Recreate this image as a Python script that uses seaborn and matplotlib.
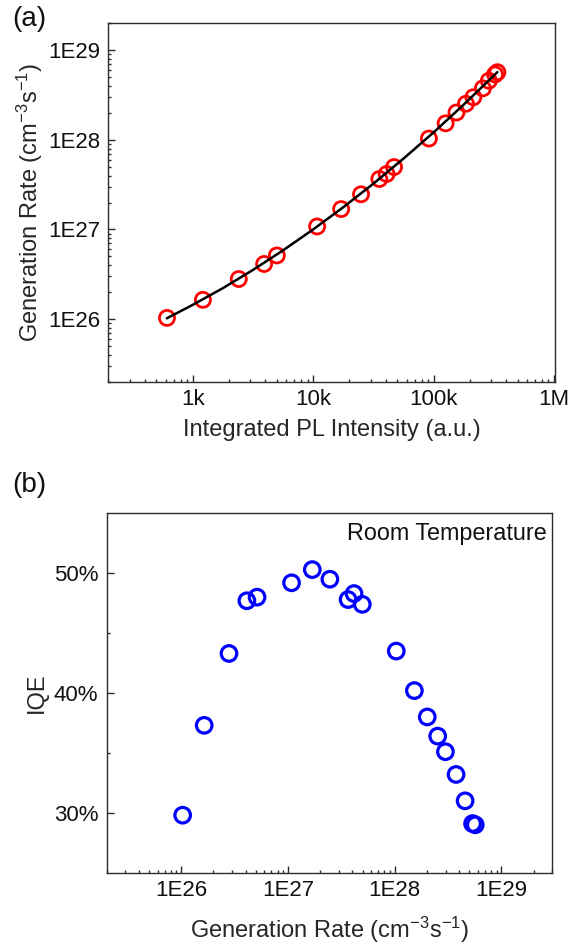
import numpy as np
import pandas as pd
import matplotlib
matplotlib.use("Agg")
import matplotlib.pyplot as plt
import matplotlib.ticker as mticker
import seaborn as sns

# ---------------- data ----------------
pl_intensity = [612, 1217, 2415, 3920, 5000, 10800, 17100, 25000, 35500, 40800,
                47000, 91600, 126000, 155000, 186000, 214000, 257000, 288000,
                324000, 339000]
gen_rate = [1.03e26, 1.64e26, 2.80e26, 4.12e26, 5.13e26, 1.08e27, 1.69e27,
            2.47e27, 3.66e27, 4.16e27, 4.97e27, 1.035e28, 1.53e28, 2.02e28,
            2.53e28, 2.99e28, 3.76e28, 4.57e28, 5.37e28, 5.69e28]
iqe_percent = [29.8, 37.3, 43.3, 47.7, 48.0, 49.2, 50.3, 49.5, 47.8, 48.3,
               47.4, 43.5, 40.2, 38.0, 36.4, 35.1, 33.2, 31.0, 29.1, 29.0]

# fitted curve
fit_pl = [610, 1000, 1778, 3162, 5623, 10000, 17783, 31623, 56234, 100000,
          177828, 339000]
fit_gen = [1.02e26, 1.44e26, 2.21e26, 3.53e26, 5.84e26, 1.00e27, 1.77e27,
           3.24e27, 6.17e27, 1.21e28, 2.47e28, 5.70e28]

xa_ticks = [1e3, 1e4, 1e5, 1e6]
xa_labels = ["1k", "10k", "100k", "1M"]
ya_ticks = [1e26, 1e27, 1e28, 1e29]
ya_labels = ["1E26", "1E27", "1E28", "1E29"]
xb_ticks = [1e26, 1e27, 1e28, 1e29]
xb_labels = ["1E26", "1E27", "1E28", "1E29"]
yb_ticks = [30, 40, 50]
yb_labels = ["30%", "40%", "50%"]

df = pd.DataFrame({"pl": pl_intensity, "gen": gen_rate, "iqe": iqe_percent})
fit = pd.DataFrame({"pl": fit_pl, "gen": fit_gen})

# ---------------- style ----------------
sns.set_style("ticks")
plt.rcParams["font.family"] = ["Liberation Sans", "DejaVu Sans"]
plt.rcParams["mathtext.fontset"] = "custom"
plt.rcParams["mathtext.rm"] = "Liberation Sans"
plt.rcParams["mathtext.it"] = "Liberation Sans:italic"
plt.rcParams["mathtext.bf"] = "Liberation Sans:bold"

TICK_FS = 16
LABEL_FS = 17
SPINE_C = "#2b2b2b"

fig = plt.figure(figsize=(5.73, 9.46), dpi=100)
ax_a = fig.add_axes([0.18935, 0.59651, 0.77923, 0.37886])
ax_b = fig.add_axes([0.18621, 0.07748, 0.77766, 0.37992])


def style_axes(ax):
    for s in ax.spines.values():
        s.set_visible(True)
        s.set_color(SPINE_C)
        s.set_linewidth(1.0)
    ax.tick_params(which="both", direction="in", top=False, right=False,
                   color=SPINE_C, width=1.0, labelsize=TICK_FS,
                   labelcolor="#111111")
    ax.tick_params(which="major", length=5)
    ax.tick_params(which="minor", length=2.5)
    ax.tick_params(axis="y", which="major", pad=6)
    ax.tick_params(axis="x", which="major", pad=5)


# ---------------- panel (a) ----------------
sns.scatterplot(data=df, x="pl", y="gen", ax=ax_a, marker="o", s=117,
                facecolor="none", edgecolor="#ff0000", linewidth=2.0,
                zorder=2, legend=False)
sns.lineplot(data=fit, x="pl", y="gen", ax=ax_a, color="black", lw=1.8,
             estimator=None, sort=False, zorder=3, legend=False)
ax_a.set_xscale("log")
ax_a.set_yscale("log")
ax_a.set_xlim(200, 1.02e6)
ax_a.set_ylim(2e25, 2e29)
ax_a.xaxis.set_major_locator(mticker.FixedLocator(xa_ticks))
ax_a.xaxis.set_major_formatter(mticker.FixedFormatter(xa_labels))
ax_a.yaxis.set_major_locator(mticker.FixedLocator(ya_ticks))
ax_a.yaxis.set_major_formatter(mticker.FixedFormatter(ya_labels))
ax_a.xaxis.set_minor_locator(mticker.LogLocator(base=10, subs=np.arange(2, 10), numticks=20))
ax_a.yaxis.set_minor_locator(mticker.LogLocator(base=10, subs=np.arange(2, 10), numticks=20))
ax_a.xaxis.set_minor_formatter(mticker.NullFormatter())
ax_a.yaxis.set_minor_formatter(mticker.NullFormatter())
ax_a.set_xlabel("Integrated PL Intensity (a.u.)", fontsize=LABEL_FS, labelpad=7)
ax_a.set_ylabel(r"Generation Rate (cm$^{-3}$s$^{-1}$)", fontsize=LABEL_FS, labelpad=2)
style_axes(ax_a)

# ---------------- panel (b) ----------------
sns.scatterplot(data=df, x="gen", y="iqe", ax=ax_b, marker="o", s=125,
                facecolor="none", edgecolor="#0000ff", linewidth=2.3,
                zorder=2, legend=False)
ax_b.set_xscale("log")
ax_b.set_xlim(2e25, 3e29)
ax_b.set_ylim(25, 55)
ax_b.xaxis.set_major_locator(mticker.FixedLocator(xb_ticks))
ax_b.xaxis.set_major_formatter(mticker.FixedFormatter(xb_labels))
ax_b.xaxis.set_minor_locator(mticker.LogLocator(base=10, subs=np.arange(2, 10), numticks=20))
ax_b.xaxis.set_minor_formatter(mticker.NullFormatter())
ax_b.yaxis.set_major_locator(mticker.FixedLocator(yb_ticks))
ax_b.yaxis.set_major_formatter(mticker.FixedFormatter(yb_labels))
ax_b.yaxis.set_minor_locator(mticker.FixedLocator([35, 45]))
ax_b.set_xlabel(r"Generation Rate (cm$^{-3}$s$^{-1}$)", fontsize=LABEL_FS, labelpad=10)
ax_b.set_ylabel("IQE", fontsize=LABEL_FS, labelpad=4)
style_axes(ax_b)
ax_b.text(0.988, 0.975, "Room Temperature", transform=ax_b.transAxes,
          ha="right", va="top", fontsize=16.8, color="#111111")

# panel letters
fig.text(0.022, 1 - 6 / 946, "(a)", ha="left", va="top", fontsize=20, color="#111111")
fig.text(0.022, 1 - 472 / 946, "(b)", ha="left", va="top", fontsize=20, color="#111111")

fig.savefig("out.png", dpi=100)
